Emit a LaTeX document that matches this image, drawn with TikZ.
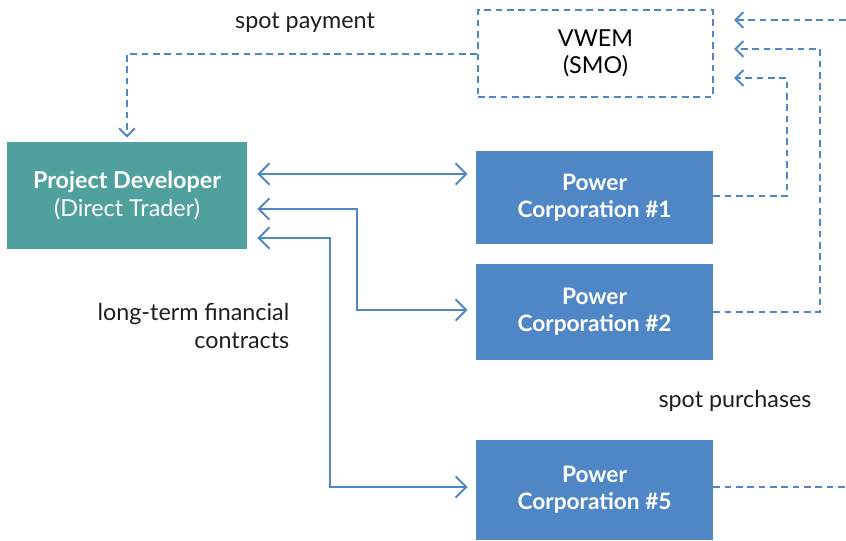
\documentclass[tikz,border=0pt]{standalone}
\usepackage{fontspec}
\setmainfont{Lato}
\usetikzlibrary{arrows.meta}

\definecolor{devteal}{RGB}{80,160,158}
\definecolor{corpblue}{RGB}{79,135,198}
\definecolor{labelgrey}{RGB}{30,30,30}

\tikzset{
  devbox/.style={fill=devteal, text=white, align=center, inner sep=0pt,
    minimum width=180pt, minimum height=80.25pt},
  corpbox/.style={fill=corpblue, text=white, align=center, inner sep=0pt,
    minimum width=177.75pt, font=\fontsize{17}{20.5}\selectfont\bfseries},
  smobox/.style={draw=corpblue, line width=1.5pt, dash pattern=on 5pt off 3.5pt,
    align=center, inner sep=0pt, minimum width=176.25pt, minimum height=65.25pt},
  contract/.style={draw=corpblue, line width=1.5pt,
    {Straight Barb[length=8pt,width=16pt]}-{Straight Barb[length=8pt,width=16pt]},
    shorten <=7.5pt, shorten >=6pt},
  spotflow/.style={draw=corpblue, line width=1.5pt, dash pattern=on 5pt off 3.5pt,
    -{Straight Barb[length=6pt,width=12pt]}},
  caption/.style={text=labelgrey, align=right}
}

\begin{document}
\begin{tikzpicture}[x=0.75pt,y=0.75pt,yscale=-1,xscale=1,font=\fontsize{17.5}{20.5}\selectfont]
\clip (0,0) rectangle (846,540);

%Shape: Rectangle
\node[devbox] (dev) at (127,195.5) {\textbf{Project Developer}\\(Direct Trader)};
%Shape: Rectangle
\node[smobox] (smo) at (595.5,53.5) {VWEM\\(SMO)};
%Shape: Rectangle
\node[corpbox, minimum height=69.75pt] (corpA) at (594.5,197.5) {Power\\Corporation \#1};
%Shape: Rectangle
\node[corpbox, minimum height=72pt] (corpB) at (594.5,312) {Power\\Corporation \#2};
%Shape: Rectangle
\node[corpbox, minimum height=75pt] (corpE) at (594.5,490) {Power\\Corporation \#5};

%Straight Lines
\draw[contract] (dev.east |- 0,174) -- (corpA.west |- 0,174);
\draw[contract] (dev.east |- 0,209) -- (357,209) |- (corpB.west |- 0,310);
\draw[contract] (dev.east |- 0,238) -- (330,238) |- (corpE.west |- 0,487);

%Dashed Lines
\draw[spotflow, shorten >=3pt] (smo.west) -| (dev.north);
\draw[spotflow, shorten >=15pt] (corpA.east |- 0,196) -- (787,196) |- (smo.east |- 0,78);
\draw[spotflow, shorten >=15pt] (corpB.east) -- (820,312) |- (smo.east |- 0,49);
\draw[spotflow, shorten >=15pt] (corpE.east |- 0,487) -- (852,487) |- (smo.east |- 0,20);

% Text Node
\node[caption] (paylbl) at (305,23) {spot payment};
% Text Node
\node[caption, anchor=east] (termlbl) at (294,326) {long-term financial\\contracts};
% Text Node
\node[caption] (buylbl) at (735,401) {spot purchases};

\end{tikzpicture}
\end{document}
